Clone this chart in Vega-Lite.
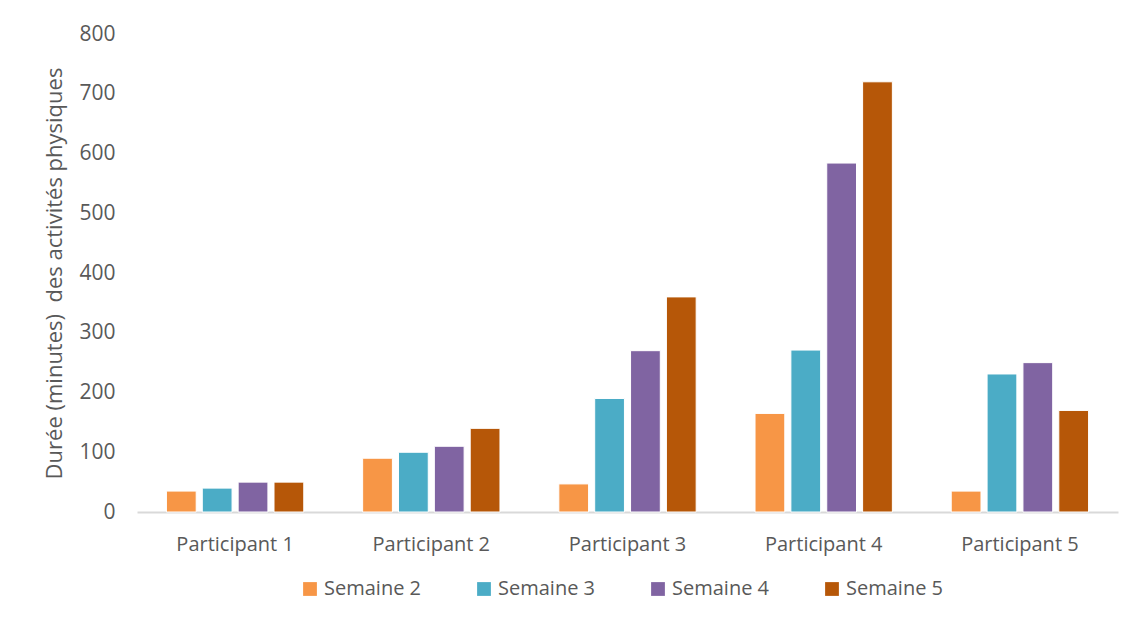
{
  "$schema": "https://vega.github.io/schema/vega-lite/v6.json",
  "width": 981,
  "height": 478,
  "autosize": {"type": "none"},
  "padding": {"left": 137, "top": 34, "right": 20, "bottom": 121},
  "background": "white",
  "data": {
    "values": [
      {"participant": "Participant 1", "semaine": "Semaine 2", "duree": 35},
      {"participant": "Participant 1", "semaine": "Semaine 3", "duree": 40},
      {"participant": "Participant 1", "semaine": "Semaine 4", "duree": 50},
      {"participant": "Participant 1", "semaine": "Semaine 5", "duree": 50},
      {"participant": "Participant 2", "semaine": "Semaine 2", "duree": 90},
      {"participant": "Participant 2", "semaine": "Semaine 3", "duree": 100},
      {"participant": "Participant 2", "semaine": "Semaine 4", "duree": 110},
      {"participant": "Participant 2", "semaine": "Semaine 5", "duree": 140},
      {"participant": "Participant 3", "semaine": "Semaine 2", "duree": 47},
      {"participant": "Participant 3", "semaine": "Semaine 3", "duree": 190},
      {"participant": "Participant 3", "semaine": "Semaine 4", "duree": 270},
      {"participant": "Participant 3", "semaine": "Semaine 5", "duree": 360},
      {"participant": "Participant 4", "semaine": "Semaine 2", "duree": 165},
      {"participant": "Participant 4", "semaine": "Semaine 3", "duree": 271},
      {"participant": "Participant 4", "semaine": "Semaine 4", "duree": 584},
      {"participant": "Participant 4", "semaine": "Semaine 5", "duree": 720},
      {"participant": "Participant 5", "semaine": "Semaine 2", "duree": 35},
      {"participant": "Participant 5", "semaine": "Semaine 3", "duree": 231},
      {"participant": "Participant 5", "semaine": "Semaine 4", "duree": 250},
      {"participant": "Participant 5", "semaine": "Semaine 5", "duree": 170}
    ]
  },
  "mark": {"type": "bar", "stroke": "white", "strokeWidth": 1},
  "encoding": {
    "x": {
      "field": "participant",
      "type": "nominal",
      "scale": {"paddingInner": 0.3, "paddingOuter": 0.15},
      "axis": {
        "title": null,
        "labelAngle": 0,
        "ticks": false,
        "domainColor": "#d9d9d9",
        "domainWidth": 2,
        "labelPadding": 22,
        "labelFontSize": 20,
        "labelFont": "Open Sans",
        "labelColor": "#595959"
      }
    },
    "xOffset": {
      "field": "semaine",
      "type": "nominal",
      "scale": {"paddingInner": 0.17}
    },
    "y": {
      "field": "duree",
      "type": "quantitative",
      "scale": {"domain": [0, 800]},
      "axis": {
        "title": "Durée (minutes)\u00a0 des activités physiques",
        "titleFont": "Open Sans",
        "titleFontSize": 22,
        "titleFontWeight": "normal",
        "titleColor": "#595959",
        "titlePadding": 12,
        "values": [0, 100, 200, 300, 400, 500, 600, 700, 800],
        "grid": false,
        "domain": false,
        "ticks": false,
        "labelPadding": 22,
        "labelFontSize": 21,
        "labelFont": "Open Sans",
        "labelColor": "#595959"
      }
    },
    "color": {
      "field": "semaine",
      "type": "nominal",
      "scale": {
        "domain": ["Semaine 2", "Semaine 3", "Semaine 4", "Semaine 5"],
        "range": ["#F79646", "#4BACC6", "#8064A2", "#B65708"]
      },
      "legend": {
        "title": null,
        "orient": "none",
        "legendX": 163,
        "legendY": 545,
        "direction": "horizontal",
        "symbolType": "square",
        "symbolSize": 190,
        "symbolStrokeWidth": 0,
        "labelFont": "Open Sans",
        "labelFontSize": 20,
        "labelColor": "#595959",
        "columnPadding": 52,
        "labelOffset": 4
      }
    }
  },
  "config": {"view": {"stroke": null}}
}
